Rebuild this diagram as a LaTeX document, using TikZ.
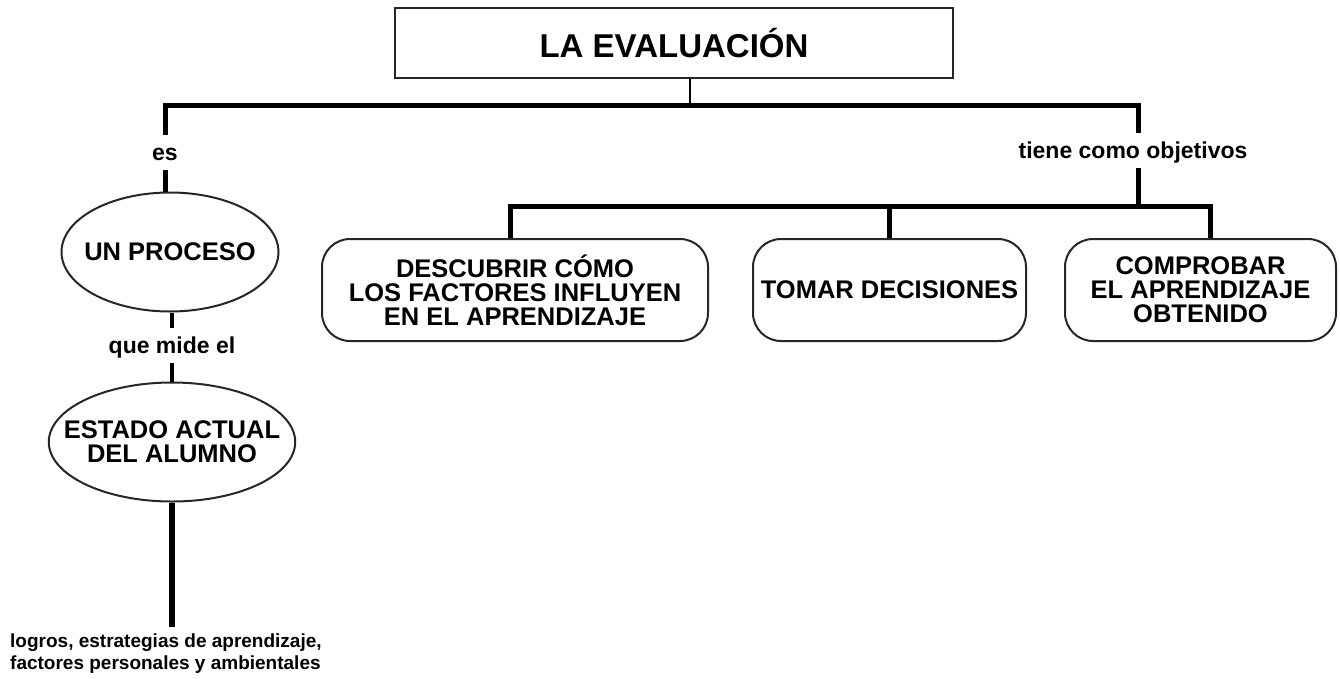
\documentclass[tikz,border=0pt]{standalone}
\usepackage{fontspec}
\setmainfont{Liberation Sans}
\usetikzlibrary{shapes.geometric}
\begin{document}
\begin{tikzpicture}[x=1pt,y=-1pt,
  shapeline/.style={draw=black!85, line width=2pt},
  titlebox/.style={shapeline, rectangle, minimum width=558pt, minimum height=70pt, inner sep=0pt, font=\fontsize{33}{33}\selectfont\bfseries},
  oval/.style={shapeline, ellipse, inner ysep=0pt, align=center, font=\fontsize{25.5}{24}\selectfont\bfseries},
  goalbox/.style={shapeline, rectangle, rounded corners=28pt, minimum height=102pt, inner sep=0pt, align=center, font=\fontsize{25.5}{24}\selectfont\bfseries},
  linklabel/.style={inner xsep=3pt, inner ysep=7pt, text height=18pt, text depth=3pt, font=\fontsize{23}{23}\selectfont\bfseries},
  bar/.style={line width=5pt},
  thinbar/.style={line width=3.5pt},
]
\path[use as bounding box] (0,0) rectangle (1340,678);

\node[titlebox] (title) at (674,43) {LA EVALUACIÓN};
\node[oval, inner xsep=-9pt, minimum width=214pt, minimum height=119pt] (proc) at (170,252) {UN PROCESO};
\node[oval, inner xsep=-21pt, minimum width=243pt, minimum height=119pt] (estado) at (172,442) {ESTADO ACTUAL\\DEL ALUMNO};
\node[goalbox, minimum width=386pt] (g1) at (515,290) {DESCUBRIR CÓMO\\LOS FACTORES INFLUYEN\\EN EL APRENDIZAJE};
\node[goalbox, minimum width=273pt] (g2) at (889.5,290) {TOMAR DECISIONES};
\node[goalbox, minimum width=271pt] (g3) at (1200.5,290) {COMPROBAR\\EL APRENDIZAJE\\OBTENIDO};

\node[linklabel, anchor=base] (es) at (165,160) {es};
\node[linklabel, anchor=base] (tiene) at (1133,158) {tiene como objetivos};
\node[linklabel, anchor=base] (mide) at (172,353) {que mide el};
\node[anchor=north west, inner sep=0pt, align=left, font=\fontsize{19}{22}\selectfont\bfseries] (logros) at (10,634) {logros, estrategias de aprendizaje,\\factores personales y ambientales};

\coordinate (jT) at (690,105);
\coordinate (jL) at (165,105);
\coordinate (jR) at (1138,105);
\coordinate (k1) at (510,206);
\coordinate (k2) at (889,206);
\coordinate (k3) at (1210,206);
\coordinate (kR) at (1138,206);

\draw[line width=2.5pt] (jT |- title.south) -- (jT);
\draw[bar] (es.north -| jL) -- (jL) -- (jR) -- (tiene.north -| jR);
\draw[bar] (es.south -| jL) -- (jL |- proc.north);
\draw[bar] (tiene.south -| kR) -- (kR);
\draw[bar] (k1 |- g1.north) -- (k1) -- (k3) -- (k3 |- g3.north);
\draw[bar] (k2) -- (k2 |- g2.north);
\draw[thinbar] (mide.north |- proc.south) -- (mide.north);
\draw[thinbar] (mide.south) -- (mide.south |- estado.north);
\draw[line width=6pt, shorten >=7pt] (estado.south) -- (estado.south |- logros.north);
\end{tikzpicture}
\end{document}
